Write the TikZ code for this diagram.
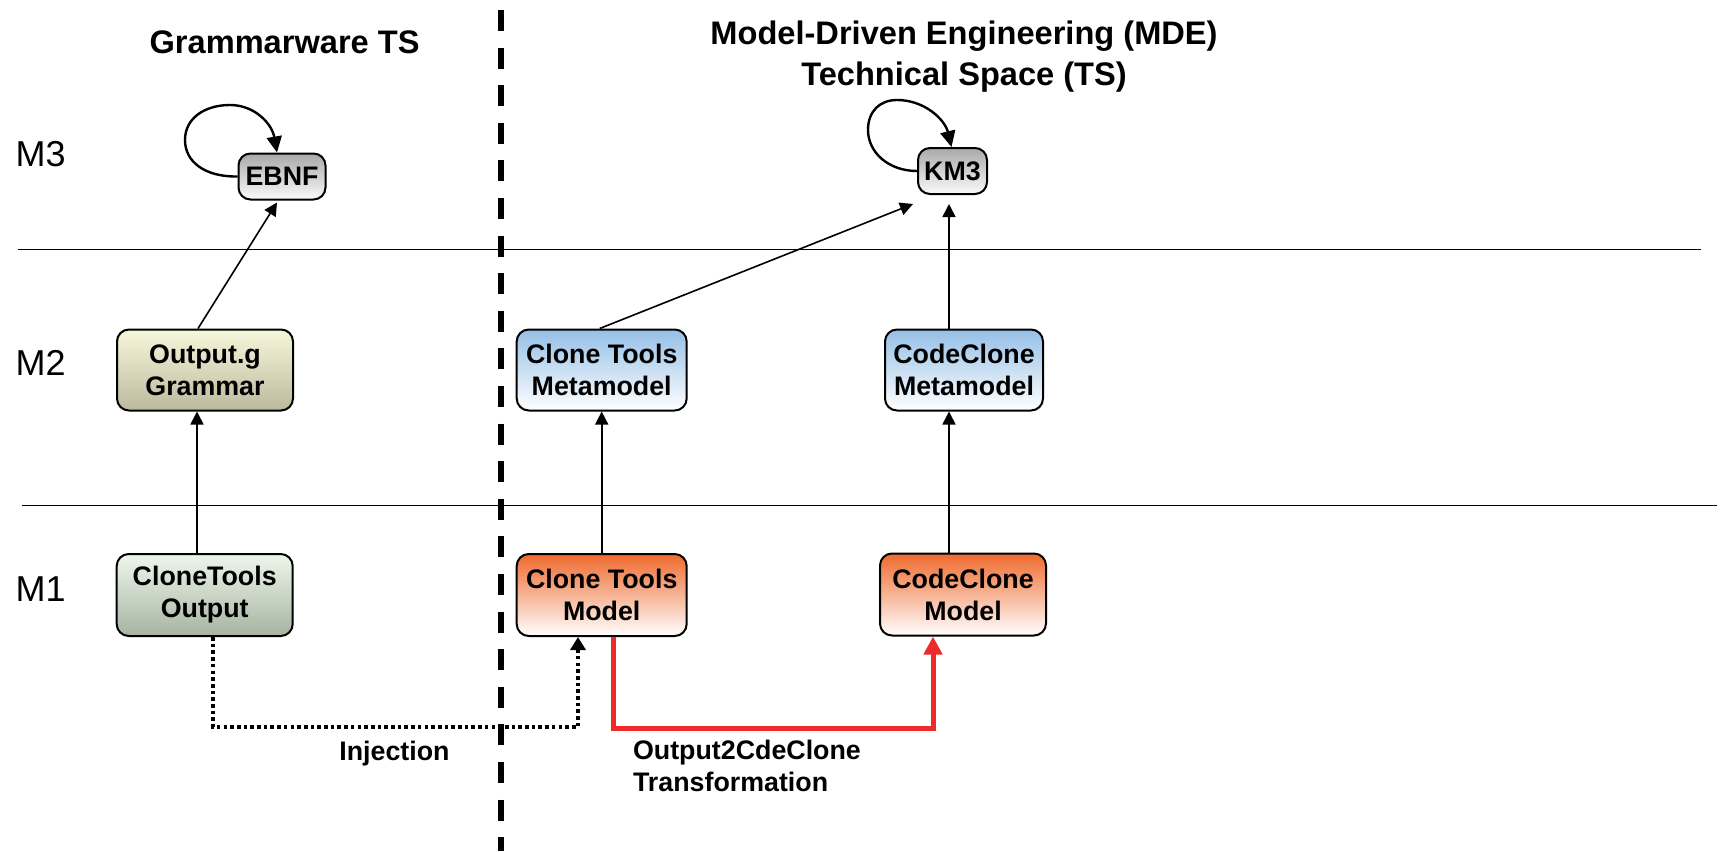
\documentclass[tikz,border=0pt]{standalone}
\usepackage{fontspec}
\setmainfont{Liberation Sans}
\usetikzlibrary{arrows.meta,calc}
\definecolor{greytop}{HTML}{A9A9A9}
\definecolor{greybot}{HTML}{FAFAFA}
\definecolor{yeltop}{HTML}{F7F7DC}
\definecolor{yelbot}{HTML}{BCB99D}
\definecolor{grntop}{HTML}{EEF6EC}
\definecolor{grnbot}{HTML}{A6B4A0}
\definecolor{bluetop}{HTML}{95BFE6}
\definecolor{orgtop}{HTML}{EE6A2E}
\definecolor{trred}{HTML}{EE2A2A}
\begin{document}
\begin{tikzpicture}[x=0.5pt,y=-0.5pt,
  box/.style={draw,line width=1pt,rounded corners=6pt,inner sep=0pt,align=center,
    font=\fontsize{13.4}{16}\selectfont\bfseries},
  mthree/.style={box,minimum height=23pt,top color=greytop,bottom color=greybot},
  gramshade/.style={box,minimum width=88pt,minimum height=40.5pt,top color=yeltop,bottom color=yelbot},
  outshade/.style={box,minimum width=88pt,minimum height=41pt,top color=grntop,bottom color=grnbot},
  metashade/.style={box,minimum height=40.5pt,top color=bluetop,bottom color=white},
  modelshade/.style={box,minimum height=41pt,top color=orgtop,bottom color=white},
  arr/.style={-{Triangle[length=6.5pt,width=6.5pt]},line width=0.8pt},
  looparr/.style={-{Triangle[length=8pt,width=7.5pt]},line width=1.2pt},
  level/.style={font=\fontsize{18}{20}\selectfont},
  title/.style={align=center,font=\fontsize{16.3}{20.5}\selectfont\bfseries},
  lbl/.style={font=\fontsize{13.4}{16}\selectfont\bfseries,align=left},
  sep/.style={line width=0.6pt},
  divider/.style={line width=3pt,dash pattern=on 10.5pt off 8.3pt}
]
\useasboundingbox (0,0) rectangle (1723,851);

% separators
\coordinate (h1a) at (18,249.5);
\coordinate (h1b) at (1701,249.5);
\coordinate (h2a) at (22,505.5);
\coordinate (h2b) at (1717,505.5);
\draw[sep] (h1a) -- (h1b);
\draw[sep] (h2a) -- (h2b);
\coordinate (dv1) at (501,10);
\coordinate (dv2) at (501,851);
\draw[divider] (dv1) -- (dv2);

% titles and level labels
\node[title] (t1) at (284.6,41.8) {Grammarware TS};
\node[title] (t2) at (964,57) {Model-Driven Engineering (MDE)\\Technical Space (TS)};
\node[level] (m3) at (40.7,153.8) {M3};
\node[level] (m2) at (40.7,362.6) {M2};
\node[level] (m1) at (40.7,589) {M1};

% nodes
\node[mthree,minimum width=43.5pt] (ebnf) at (282,176.5) {EBNF};
\node[mthree,minimum width=34.5pt] (km3) at (952.5,171) {KM3};
\node[gramshade] (grammar) at (205,370) {Output.g\\Grammar};
\node[metashade,minimum width=85pt] (ctmeta) at (601.7,370) {Clone Tools\\Metamodel};
\node[metashade,minimum width=79pt] (ccmeta) at (964,370) {CodeClone\\Metamodel};
\node[outshade] (output) at (204.7,595) {CloneTools\\Output};
\node[modelshade,minimum width=85pt] (ctmodel) at (601.7,595) {Clone Tools\\Model};
\node[modelshade,minimum width=83pt] (ccmodel) at (963,594.5) {CodeClone\\Model};

% self loops
\draw[looparr] (ebnf.west) .. controls (205,177) and (185,162) .. (185,140)
  .. controls (185,118) and (205,105) .. (230,105)
  .. controls (255,105) and (272,124) .. ($(ebnf.north)+(-5,0)$);
\draw[looparr] (km3.west) .. controls (888,171) and (868,152) .. (868,130)
  .. controls (868,111) and (880,100) .. (897,100)
  .. controls (925,100) and (945,120) .. ($(km3.north)+(-1,0)$);

% conformance arrows
\draw[arr] ($(grammar.north)+(-7,0)$) -- ($(ebnf.south)+(-5,2)$);
\coordinate (vx1) at (197,0);
\draw[arr] (output.north -| vx1) -- (grammar.south -| vx1);
\draw[arr] ($(ctmeta.north)+(-2,0)$) -- ($(km3.south west)+(-4,9)$);
\coordinate (vx2) at (949,0);
\draw[arr] (ccmeta.north -| vx2) -- ($(km3.south -| vx2)+(0,9)$);
\draw[arr] (ctmodel.north) -- (ctmeta.south);
\draw[arr] (ccmodel.north -| vx2) -- (ccmeta.south -| vx2);

% injection
\coordinate (injL) at (213,727);
\coordinate (injR) at (578,727);
\draw[arr,line width=1.9pt,dash pattern=on 1.8pt off 1.55pt,-{Triangle[length=6.5pt,width=7.5pt]}]
  (output.south -| injL) -- (injL) -- (injR) -- (ctmodel.south -| injR);
\node[lbl] (injlbl) at (394.5,754) {Injection};

% transformation
\coordinate (trL) at (613,728);
\coordinate (trR) at (933,728);
\draw[trred,line width=2.5pt,-{Triangle[length=9pt,width=9pt]}]
  (ctmodel.south -| trL) -- (trL) -- (trR) -- (ccmodel.south -| trR);
\node[lbl,anchor=west] (trlbl) at (626,766) {Output2CdeClone\\Transformation};
\end{tikzpicture}
\end{document}
